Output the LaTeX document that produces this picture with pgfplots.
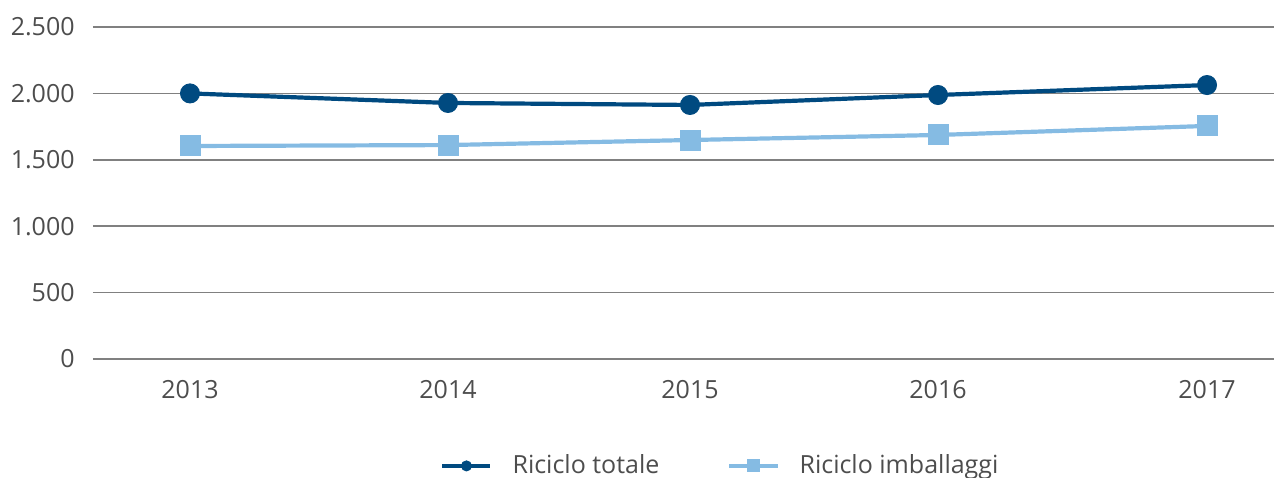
\documentclass[border=0pt]{standalone}
\usepackage{fontspec}
\setmainfont{Open Sans}
\usepackage{pgfplots}
\pgfplotsset{compat=1.18}
\definecolor{dblue}{HTML}{004A80}
\definecolor{lblue}{HTML}{85BBE3}
\definecolor{txt}{HTML}{4D4D4D}
\definecolor{gridc}{HTML}{808080}
\begin{document}
\begin{tikzpicture}
\useasboundingbox (-46.5pt,-59pt) rectangle (590.5pt,179.5pt);
\begin{axis}[
 at={(0pt,0pt)}, anchor=south west,
 scale only axis, width=590.5pt, height=166pt,
 xmin=93, xmax=1274, ymin=0, ymax=2500,
 ytick={0,500,...,2500}, xtick={190,448,690,938,1207},
 xticklabels={2013,2014,2015,2016,2017},
 axis line style={draw=none}, major tick length=0pt,
 ymajorgrids, grid style={gridc, line width=0.75pt},
 tick label style={text=txt, font=\fontsize{12.5pt}{15pt}\selectfont},
 yticklabel style={inner sep=0pt, xshift=-9pt},
 xticklabel style={inner sep=0pt, yshift=-10.5pt},
 /pgf/number format/1000 sep={.},
 /pgf/number format/assume math mode=true,
 legend columns=2,
 legend style={at={(0.2938,-0.322)}, anchor=west, draw=none, fill=none, inner sep=0pt,
   font=\fontsize{12.5pt}{15pt}\selectfont, text=txt,
   /tikz/every odd column/.append style={column sep=8pt},
   /tikz/every even column/.append style={column sep=32pt}},
 legend image code/.code={\draw[mark repeat=2,mark phase=2,#1] plot coordinates {(0pt,0pt) (12pt,0pt) (24pt,0pt)};},
 clip=false,
]
\addplot[dblue, line width=2.1pt, mark=*, mark size=4.75pt, mark options={line width=0.5pt},
  legend image post style={mark size=2.5pt}]
  coordinates {(190,2000)(448,1928)(690,1913)(938,1988)(1207,2063)};
\addplot[lblue, line width=2.1pt, mark=square*, mark size=5pt, mark options={line width=0.5pt},
  legend image post style={mark size=3pt}]
  coordinates {(190,1604)(448,1611)(690,1649)(938,1687)(1207,1755)};
\legend{Riciclo totale, Riciclo imballaggi}
\end{axis}
\end{tikzpicture}
\end{document}
